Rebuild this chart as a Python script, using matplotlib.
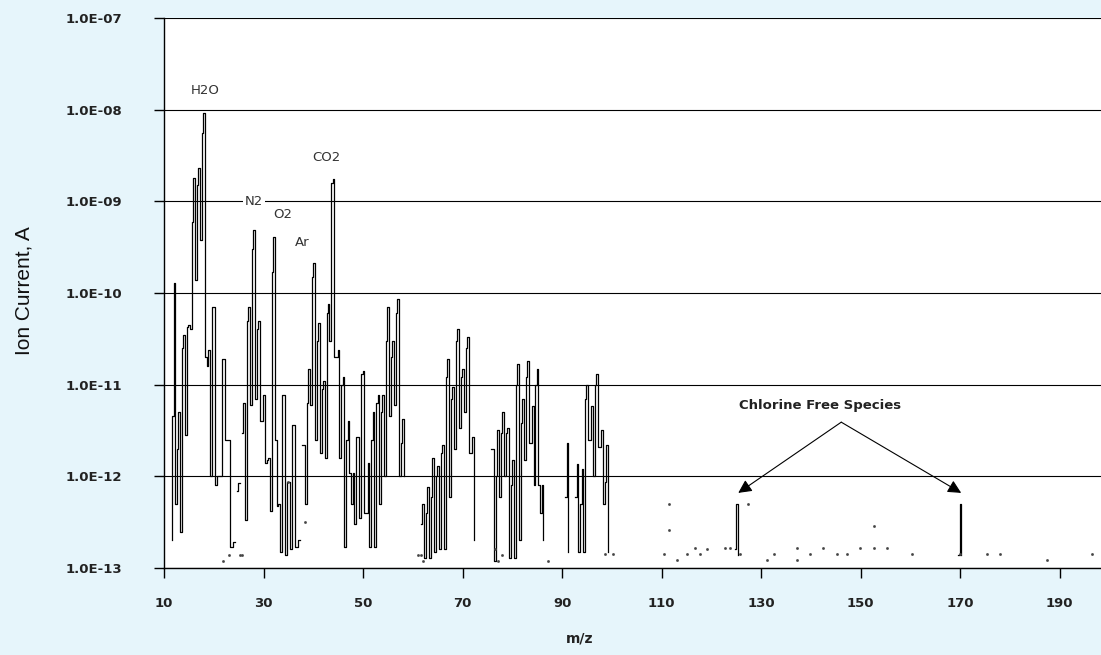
import numpy as np
import matplotlib
matplotlib.use("Agg")
from matplotlib import pyplot as plt

# mass spectrum
# each mass: shoulder level, peak level, level it drops to afterwards
masses = [12, 13, 14, 15, 16, 17, 18, 19, 20, 21, 22, 23, 24, 25, 26, 27, 28, 29, 30,
          31, 32, 33, 34, 35, 36, 37, 38, 39, 40, 41, 42, 43, 44, 45, 46, 47, 48, 49,
          50, 51, 52, 53, 54, 55, 56, 57, 58, 62, 63, 64, 65, 66, 67, 68, 69, 70, 71,
          72, 76, 77, 78, 79, 80, 81, 82, 83, 84, 85, 86, 91, 93, 94, 95, 96, 97, 98,
          99, 125, 170]
shoulder = [4.5e-12, 2e-12, 2.5e-11, 4.3e-11, 6e-10, 1.5e-9, 5.6e-9, 1.6e-11, 7e-11, 1e-12,
            1.9e-11, 2.5e-12, 1.7e-13, 7e-13, 3e-12, 5e-11, 3e-10, 4e-11, 4e-12,
            1.5e-12, 1.7e-10, 4.8e-13, 7.7e-12, 8.7e-13, 3.6e-12, 1.7e-13, 2.2e-12, 6.3e-12,
            1.5e-10, 3e-11, 9e-12, 6e-11, 1.6e-9, 2e-11, 1e-11, 2.5e-12, 5e-13, 2.7e-12,
            1.3e-11, 4e-13, 2.5e-12, 6.3e-12, 5e-12, 3e-11, 2e-11, 6e-11, 2.3e-12,
            3e-13, 4e-13, 6e-13, 1e-12, 1.8e-12, 1.2e-11, 7e-12, 3e-11, 1.2e-11, 2.5e-11,
            1.8e-12, 2e-12, 1e-12, 3e-12, 3e-12, 8e-13, 1e-11, 3.8e-12, 1.2e-11, 2.3e-12,
            1e-11, 4e-13, 6e-13, 6e-13, 5e-13, 7e-12, 2.5e-12, 1e-11, 2.1e-12,
            8.7e-13, 1.6e-13, 1.4e-13]
peak = [1.3e-10, 5e-12, 3.5e-11, 4.5e-11, 1.8e-9, 2.3e-9, 9.2e-9, 2.4e-11, 7e-11, 1e-12,
        1.9e-11, 2.5e-12, 1.9e-13, 8.5e-13, 6.3e-12, 7e-11, 4.9e-10, 5e-11, 7.7e-12,
        1.6e-12, 4.1e-10, 5e-13, 7.7e-12, 8.7e-13, 3.6e-12, 2e-13, 2.2e-12, 1.5e-11,
        2.1e-10, 4.7e-11, 1.1e-11, 7.5e-11, 1.75e-9, 2.4e-11, 1.2e-11, 4e-12, 1.1e-12, 2.7e-12,
        1.4e-11, 1.4e-12, 5e-12, 7.7e-12, 7.7e-12, 7e-11, 3e-11, 8.6e-11, 4.2e-12,
        5e-13, 7.7e-13, 1.6e-12, 1.3e-12, 2.2e-12, 1.9e-11, 9.5e-12, 4e-11, 1.5e-11, 3.3e-11,
        2.7e-12, 2e-12, 3.2e-12, 5e-12, 3.4e-12, 1.5e-12, 1.7e-11, 7e-12, 1.8e-11, 5.8e-12,
        1.5e-11, 8e-13, 2.3e-12, 1.35e-12, 1.2e-12, 1e-11, 5.8e-12, 1.3e-11, 3.2e-12,
        2.2e-12, 5e-13, 5e-13]
drop = [5e-13, 2.5e-13, 2.8e-12, 4e-11, 1.4e-10, 3.8e-10, 2e-11, 1e-12, 8e-13, 1e-12,
        2.5e-12, 1.7e-13, np.nan, np.nan, 3.3e-13, 6e-12, 7e-12, 4e-12, 1.4e-12,
        4.2e-13, 2.5e-12, 1.5e-13, 1.4e-13, 1.6e-13, 1.7e-13, np.nan, 5e-13, 6e-12,
        2.5e-12, 1.8e-12, 1.6e-12, 3e-11, 2e-11, 1.6e-12, 1.7e-13, 1.1e-12, 3e-13, 3.5e-13,
        4e-13, 1.7e-13, 1.7e-13, 5e-13, 1e-12, 4.5e-12, 6e-12, 1e-12, 1e-12,
        1.3e-13, 1.3e-13, 1.5e-13, 1.6e-13, 1.6e-13, 6e-13, 2e-12, 3.4e-12, 5e-12, 1.8e-12,
        2e-13, 1.2e-13, 6e-13, 1e-12, 1.3e-13, 1.3e-13, 2e-13, 1.5e-12, 2.3e-12, 8e-13,
        8e-13, 2e-13, 1.5e-13, 1.5e-13, 1.5e-13, 2.5e-12, 1e-12, 2.1e-12, 5e-13,
        1.5e-13, 1.4e-13, 1.4e-13]
start_level = 2e-13

# loose points near the noise floor
dot_x = [21.8, 23.1, 25.2, 25.7, 34.9, 38.3, 61.0, 61.6, 62.0, 76.5, 77.2, 78.0, 87.2,
         98.6, 100.3, 110.4, 111.4, 111.4, 113.1, 115.1, 116.7, 117.7, 119.2, 122.8, 123.8,
         125.8, 127.4, 131.1, 132.5, 137.2, 137.2, 139.8, 142.5, 145.2, 147.2, 149.9,
         152.6, 152.6, 155.3, 160.3, 170.0, 175.4, 178.0, 187.4, 196.5]
dot_y = [1.2e-13, 1.4e-13, 1.4e-13, 1.4e-13, 8.6e-13, 3.2e-13, 1.4e-13, 1.4e-13, 1.2e-13,
         1.6e-13, 1.2e-13, 1.4e-13, 1.2e-13, 1.43e-13, 1.43e-13, 1.43e-13, 5e-13, 2.6e-13,
         1.23e-13, 1.43e-13, 1.65e-13, 1.43e-13, 1.6e-13, 1.65e-13, 1.65e-13, 1.43e-13,
         5e-13, 1.23e-13, 1.43e-13, 1.65e-13, 1.23e-13, 1.43e-13, 1.65e-13, 1.43e-13,
         1.43e-13, 1.65e-13, 2.9e-13, 1.65e-13, 1.65e-13, 1.43e-13, 1.43e-13, 1.43e-13,
         1.43e-13, 1.23e-13, 1.43e-13]

species = ["H2O", "N2", "O2", "Ar", "CO2"]
species_x = [18.2, 28.1, 33.9, 37.7, 42.6]
species_y = [1.6e-8, 1.0e-9, 7.1e-10, 3.6e-10, 3.0e-9]

y_ticks = [1e-13, 1e-12, 1e-11, 1e-10, 1e-9, 1e-8, 1e-7]
y_labels = ["1.0E-13", "1.0E-12", "1.0E-11", "1.0E-10", "1.0E-09", "1.0E-08", "1.0E-07"]
x_ticks = [10, 30, 50, 70, 90, 110, 130, 150, 170, 190]

# build the stepped trace
xs, ys = [], []
prev_m, prev_drop = None, start_level
for m, s, p, d in zip(masses, shoulder, peak, drop):
    if prev_m is not None and m - prev_m > 1:
        xs.append(m - 0.5)
        ys.append(np.nan)
        prev_drop = np.nan
    xs += [m - 0.35, m - 0.35, m - 0.1, m - 0.1, m + 0.25, m + 0.25]
    ys += [prev_drop, s, s, p, p, d]
    prev_m, prev_drop = m, d

bg = "#E6F5FB"
fig = plt.figure(figsize=(11.01, 6.55), dpi=100, facecolor=bg)
ax = fig.add_axes([0.149, 0.1328, 0.851, 0.8397])
ax.set_facecolor("white")

ax.plot(xs, ys, color="black", lw=0.9)
ax.plot(dot_x, dot_y, ls="none", marker="s", ms=0.9, color="#444444")

ax.set_yscale("log")
ax.set_ylim(1e-13, 1e-7)
ax.set_xlim(10, 198.3)
ax.set_yticks(y_ticks)
ax.set_yticklabels(y_labels)
ax.yaxis.set_minor_locator(matplotlib.ticker.NullLocator())
ax.set_xticks(x_ticks)
ax.grid(axis="y", color="black", lw=0.8)
ax.set_axisbelow(True)
for side in ["top", "right"]:
    ax.spines[side].set_visible(False)
ax.spines["left"].set_linewidth(1.0)
ax.spines["bottom"].set_linewidth(1.0)
ax.tick_params(axis="y", length=7, width=1, pad=23, labelsize=9.5)
ax.tick_params(axis="x", length=7, width=1, pad=14, labelsize=9.5)
for lab in ax.get_xticklabels() + ax.get_yticklabels():
    lab.set_fontweight("bold")
    lab.set_color("#222222")

for name, sx, sy in zip(species, species_x, species_y):
    box = dict(facecolor="white", edgecolor="none", pad=1.5) if name == "N2" else None
    ax.text(sx, sy, name, ha="center", va="center", fontsize=9.5, color="#333333", bbox=box)

ax.text(141.9, 5.9e-12, "Chlorine Free Species", ha="center", va="center",
        fontsize=9.5, fontweight="bold", color="#222222")
for tx in [125.4, 170.2]:
    ax.annotate("", xy=(tx, 6.6e-13), xytext=(146.1, 3.9e-12),
                arrowprops=dict(arrowstyle="-|>", color="black", lw=0.8,
                                mutation_scale=20, shrinkA=0, shrinkB=0))

ax.set_ylabel("Ion Current, A", fontsize=15, family="Liberation Sans", color="#111111")
ax.yaxis.set_label_coords(-0.139, 0.505)
ax.set_xlabel("m/z", fontsize=10, fontweight="bold", color="#222222")
ax.xaxis.set_label_coords(0.444, -0.115)

fig.savefig("out.png", dpi=100, facecolor=bg)
